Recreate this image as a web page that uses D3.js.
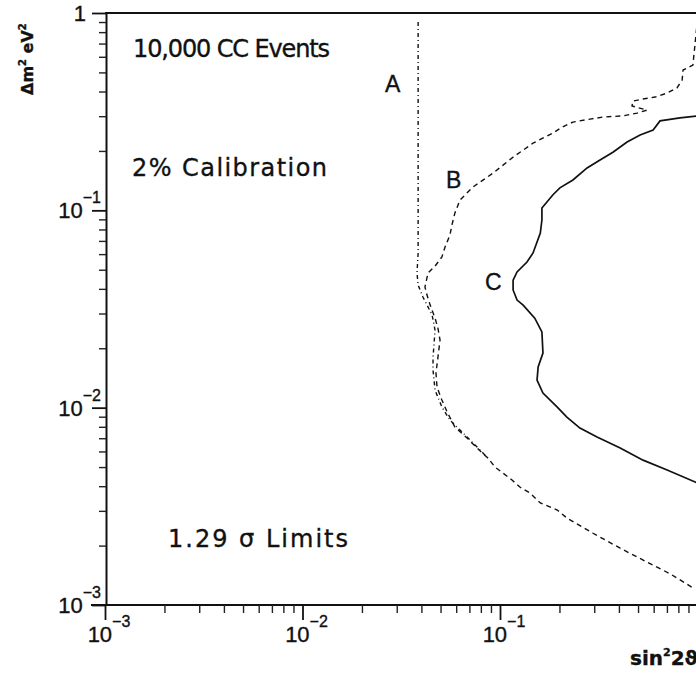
<!DOCTYPE html>
<html>
<head>
<meta charset="utf-8">
<script src="https://cdn.jsdelivr.net/npm/d3@7"></script>
<style>
  html, body { margin: 0; padding: 0; background: #fff; }
  svg { display: block; }
  text { fill: #111; stroke: #111; stroke-width: 0.35px; }
</style>
</head>
<body>
<svg id="chart" width="696" height="673"></svg>
<script>
// Oscillation sensitivity contours: sin^2(2θ) vs Δm^2 (log-log)

// Curve A (dash-dot): sin^2 2θ and Δm^2 [eV^2]
const sinA = [0.0385, 0.0385, 0.0380, 0.0385, 0.0407, 0.0453, 0.0469, 0.0458, 0.0458, 0.0469, 0.0508, 0.0558, 0.0643, 0.0730, 0.0820, 0.0869];
const dmA  = [0.900, 0.0608, 0.0481, 0.0418, 0.0364, 0.0295, 0.0247, 0.0180, 0.0155, 0.01228, 0.01007, 0.00865, 0.00752, 0.00662, 0.00589, 0.00555];

// Curve B (dashed)
const sinB = [0.99, 0.948, 0.845, 0.836, 0.787, 0.702, 0.610, 0.524, 0.471, 0.466, 0.555, 0.494, 0.420, 0.333, 0.286, 0.234, 0.206, 0.185, 0.147, 0.1165,
              0.0923, 0.0730, 0.0627, 0.0591, 0.0571, 0.0558, 0.0527, 0.0508, 0.0469, 0.0432, 0.0417, 0.0427, 0.0443, 0.0469, 0.0485, 0.0497, 0.0485, 0.0474, 0.0480, 0.0508,
              0.0540, 0.0591, 0.0681, 0.0766, 0.0869, 0.0944, 0.1035, 0.115, 0.126, 0.142, 0.160, 0.195, 0.218, 0.296, 0.406, 0.555, 0.726, 0.938];
const dmB  = [0.839, 0.545, 0.514, 0.457, 0.417, 0.393, 0.375, 0.366, 0.358, 0.338, 0.322, 0.311, 0.301, 0.297, 0.290, 0.280, 0.264, 0.246, 0.219, 0.186,
              0.1545, 0.1313, 0.1128, 0.0969, 0.0842, 0.0750, 0.0652, 0.0580, 0.0522, 0.0481, 0.0409, 0.0372, 0.0331, 0.0284, 0.0253, 0.0220, 0.0180, 0.0150, 0.0127, 0.01093,
              0.00950, 0.00798, 0.00702, 0.00624, 0.00555, 0.00500, 0.00466, 0.00430, 0.00396, 0.00369, 0.00329, 0.00303, 0.00276, 0.00231, 0.00194, 0.00165, 0.00144, 0.00123];

// Curve C (solid)
const sinC = [1.0, 0.815, 0.646, 0.596, 0.512, 0.440, 0.373, 0.321, 0.276, 0.234, 0.201, 0.185, 0.163, 0.163, 0.160, 0.147, 0.137, 0.122, 0.1165, 0.1165,
              0.122, 0.131, 0.150, 0.163, 0.165, 0.156, 0.154, 0.165, 0.195, 0.218, 0.254, 0.310, 0.406, 0.530, 0.702, 1.0];
const dmC  = [0.301, 0.294, 0.284, 0.255, 0.241, 0.222, 0.197, 0.180, 0.164, 0.1425, 0.130, 0.1196, 0.1027, 0.0893, 0.0767, 0.0608, 0.0547, 0.0487, 0.0443, 0.0395,
              0.0351, 0.0331, 0.0284, 0.0242, 0.0189, 0.0161, 0.0138, 0.01186, 0.01007, 0.00896, 0.00788, 0.00710, 0.00624, 0.00542, 0.00483, 0.00415];

// Axis ticks and labels
const majorTicks = [0.001, 0.01, 0.1, 1];
const minorSteps = [2, 3, 4, 5, 6, 7, 8, 9];
const tickBase = ["10", "10", "10", "1"];
const tickExp  = ["\u22123", "\u22122", "\u22121", ""];

const svg = d3.select("#chart");
const x = d3.scaleLog().domain([1e-3, 1]).range([105, 697.5]);
const y = d3.scaleLog().domain([1e-3, 1]).range([605, 13]);

const minorTicks = [];
majorTicks.slice(0, 3).forEach(d => minorSteps.forEach(k => minorTicks.push(d * k)));

// Y axis (ticks on the outside)
const yMajor = svg.append("g").attr("transform", "translate(106,0)")
  .call(d3.axisLeft(y).tickValues(majorTicks).tickSize(14).tickSizeOuter(0).tickFormat(""));
yMajor.select(".domain").attr("stroke", "#111").attr("stroke-width", 2);
yMajor.selectAll(".tick line").attr("stroke", "#111").attr("stroke-width", 1.8);

const yMinor = svg.append("g").attr("transform", "translate(106,0)")
  .call(d3.axisLeft(y).tickValues(minorTicks).tickSize(7).tickFormat(""));
yMinor.select(".domain").remove();
yMinor.selectAll(".tick line").attr("stroke", "#222").attr("stroke-width", 1.4);

// X axis
const xMajor = svg.append("g").attr("transform", "translate(0,605)")
  .call(d3.axisBottom(x).tickValues(majorTicks).tickSize(15).tickSizeOuter(0).tickFormat(""));
xMajor.select(".domain").attr("stroke", "#111").attr("stroke-width", 2)
  .attr("d", `M91,0H${x(1)}`);
xMajor.selectAll(".tick line").attr("stroke", "#111").attr("stroke-width", 1.8);

const xMinor = svg.append("g").attr("transform", "translate(0,605)")
  .call(d3.axisBottom(x).tickValues(minorTicks).tickSize(8).tickFormat(""));
xMinor.select(".domain").remove();
xMinor.selectAll(".tick line").attr("stroke", "#222").attr("stroke-width", 1.4);

// Top frame line
svg.append("line")
  .attr("x1", x(1e-3)).attr("x2", x(1)).attr("y1", y(1)).attr("y2", y(1))
  .attr("stroke", "#111").attr("stroke-width", 2.2);

const tickFont = "'Liberation Sans', Arial, sans-serif";

// Y tick labels
majorTicks.forEach((v, i) => {
  const t = svg.append("text")
    .attr("x", 101).attr("y", y(v) + 8)
    .attr("text-anchor", "end")
    .style("font-family", tickFont).style("font-size", "22px");
  if (tickExp[i]) {
    t.append("tspan").text(tickBase[i]);
    t.append("tspan").attr("dy", -15).style("font-size", "16px").text(tickExp[i]);
  } else {
    t.attr("x", 86).text(tickBase[i]);
  }
});

// X tick labels
majorTicks.forEach((v, i) => {
  const t = svg.append("text")
    .attr("x", x(v) + 4).attr("y", 642)
    .attr("text-anchor", "middle")
    .style("font-family", tickFont).style("font-size", "22px");
  t.append("tspan").text(tickBase[i]);
  if (tickExp[i]) t.append("tspan").attr("dy", -15).style("font-size", "16px").text(tickExp[i]);
});

// Axis titles
const yTitle = svg.append("text")
  .attr("transform", "translate(33,95) rotate(-90)")
  .style("font-family", "'DejaVu Sans', sans-serif").style("font-size", "16px").style("font-weight", "bold");
yTitle.append("tspan").text("\u0394m");
yTitle.append("tspan").attr("dy", -7).style("font-size", "10px").text("2");
yTitle.append("tspan").attr("dy", 7).text(" eV");
yTitle.append("tspan").attr("dy", -7).style("font-size", "10px").text("2");

const xTitle = svg.append("text")
  .attr("x", 630).attr("y", 665)
  .style("font-family", "'DejaVu Sans', sans-serif").style("font-size", "20px").style("font-weight", "bold");
xTitle.append("tspan").text("sin");
xTitle.append("tspan").attr("dy", -9).style("font-size", "11px").text("2");
xTitle.append("tspan").attr("dy", 9).text("2\u03D1");

// Curves
const line = d3.line().x(d => x(d[0])).y(d => y(d[1]));
const zip = (a, b) => a.map((v, i) => [v, b[i]]);

svg.append("path").datum(zip(sinA, dmA)).attr("d", line)
  .attr("fill", "none").attr("stroke", "#111").attr("stroke-width", 1.4)
  .attr("stroke-dasharray", "4,3,1,3");
svg.append("path").datum(zip(sinB, dmB)).attr("d", line)
  .attr("fill", "none").attr("stroke", "#111").attr("stroke-width", 1.4)
  .attr("stroke-dasharray", "5,4");
svg.append("path").datum(zip(sinC, dmC)).attr("d", line)
  .attr("fill", "none").attr("stroke", "#111").attr("stroke-width", 1.7);

// Annotations
const noteFont = "'DejaVu Sans', sans-serif";
const notes = [
  { t: "10,000 CC Events", x: 133, y: 57, w: 197 },
  { t: "2% Calibration", x: 132, y: 176, w: 195 },
  { t: "1.29 \u03C3 Limits", x: 168, y: 547, w: 180 }
];
notes.forEach(n => svg.append("text").attr("x", n.x).attr("y", n.y)
  .attr("textLength", n.w).attr("lengthAdjust", "spacing")
  .style("font-family", noteFont).style("font-size", "24px").text(n.t));

const curveLabels = [
  { t: "A", x: 385, y: 92 },
  { t: "B", x: 446, y: 188 },
  { t: "C", x: 485, y: 290 }
];
curveLabels.forEach(n => svg.append("text").attr("x", n.x).attr("y", n.y)
  .style("font-family", tickFont).style("font-size", "23px").text(n.t));
</script>
</body>
</html>
